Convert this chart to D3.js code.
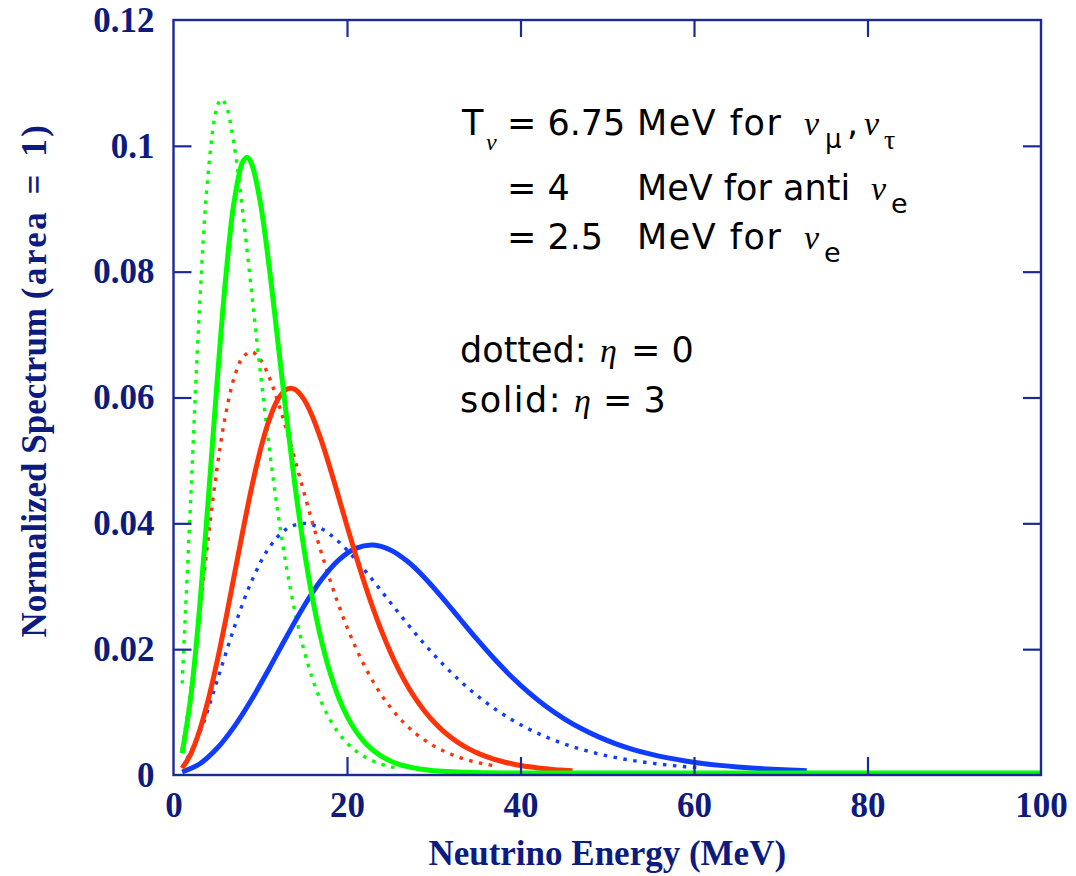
<!DOCTYPE html>
<html><head><meta charset="utf-8">
<script src="https://cdn.jsdelivr.net/npm/d3@7/dist/d3.min.js"></script>
<style>body{margin:0;background:#fff}</style>
</head><body><svg id="chart" width="1076" height="876"></svg>
<script>
// ---- tick data ----
const xTickValues = [0, 20, 40, 60, 80, 100];
const xTickLabels = ["0", "20", "40", "60", "80", "100"];
const yTickValues = [0, 0.02, 0.04, 0.06, 0.08, 0.1, 0.12];
const yTickLabels = ["0", "0.02", "0.04", "0.06", "0.08", "0.1", "0.12"];

// ---- series: T = 2.5 MeV (green) ----
const greenDottedE = [1,2,3,4,5,5.5,6,7,8,9,10,11,12,13,14,15,16,17,18,19,20,21,22,23,24,25,26];
const greenDottedV = [.01424,.04402,.07395,.09540,.10578,.10710,.10628,.09970,.08897,.07647,.06384,.05209,.04172,.03291,.02563,.01975,.01507,.01141,.00858,.00641,.00476,.00352,.00259,.00190,.00138,.00101,.00073];
const greenSolidE = [1,2,3,4,5,6,7,8,8.5,9,10,11,12,13,14,15,16,17,18,19,20,21,22,23,24,25,26,27,28,29,30,35,40,60,80,100];
const greenSolidV = [.00314,.01215,.02606,.04331,.06167,.07843,.09091,.09721,.09783,.09684,.09074,.08076,.06892,.05688,.04572,.03600,.02790,.02134,.01615,.01212,.00903,.00669,.00493,.00361,.00264,.00192,.00139,.00101,.00073,.00052,.00037,.00007,.00001,0,0,0];

// ---- series: T = 4 MeV (red) ----
const redDottedE = [1,2,3,4,5,6,7,8,9,10,11,12,13,14,15,16,17,18,19,20,21,22,23,24,25,26,27,28,29,30,31,32,33,34,35,36,37];
const redDottedV = [.00379,.01309,.02502,.03729,.04825,.05691,.06286,.06611,.06693,.06574,.06300,.05918,.05467,.04979,.04480,.03990,.03522,.03085,.02683,.02320,.01995,.01707,.01454,.01234,.01044,.00879,.00739,.00619,.00517,.00431,.00359,.00298,.00246,.00204,.00168,.00139,.00114];
const redSolidE = [1,2,3,4,5,6,7,8,9,10,11,12,13,13.5,14,15,16,17,18,19,20,21,22,23,24,25,26,27,28,29,30,31,32,33,34,35,36,37,38,39,40,41,42,43,44,45,46];
const redSolidV = [.00077,.00305,.00671,.01161,.01755,.02425,.03138,.03854,.04532,.05128,.05603,.05931,.06095,.06115,.06096,.05946,.05671,.05302,.04869,.04403,.03928,.03464,.03024,.02618,.02250,.01922,.01632,.01380,.01162,.00974,.00815,.00679,.00565,.00468,.00388,.00320,.00264,.00217,.00179,.00147,.00120,.00098,.00080,.00066,.00053,.00044,.00035];

// ---- series: T = 6.75 MeV (blue) ----
const blueDottedE = [1,3,5,7,9,11,13,15,17,19,21,23,25,27,29,31,33,35,37,39,41,43,45,47,49,51,53,55,57,59,61];
const blueDottedV = [.00084,.00634,.01455,.02313,.03047,.03576,.03877,.03967,.03886,.03680,.03392,.03059,.02710,.02365,.02037,.01737,.01468,.01230,.01024,.00846,.00696,.00570,.00464,.00377,.00304,.00245,.00197,.00158,.00126,.00100,.00080];
const blueSolidE = [1,3,5,7,9,11,13,15,17,19,21,23,25,27,29,31,33,35,37,39,41,43,45,47,49,51,53,55,57,59,61,63,65,67,69,71,73];
const blueSolidV = [.00016,.00143,.00388,.00737,.01168,.01654,.02159,.02643,.03062,.03380,.03570,.03623,.03546,.03361,.03097,.02785,.02452,.02123,.01811,.01526,.01273,.01053,.00865,.00706,.00574,.00464,.00373,.00300,.00240,.00191,.00152,.00121,.00096,.00076,.00060,.00047,.00037];

const BLUE = "#0f3cff", RED = "#ff3308", GREEN = "#00ff00";
const series = [
  {E: blueDottedE, V: blueDottedV, color: BLUE, dotted: true},
  {E: redDottedE, V: redDottedV, color: RED, dotted: true},
  {E: greenDottedE, V: greenDottedV, color: GREEN, dotted: true},
  {E: blueSolidE, V: blueSolidV, color: BLUE, dotted: false},
  {E: redSolidE, V: redSolidV, color: RED, dotted: false},
  {E: greenSolidE, V: greenSolidV, color: GREEN, dotted: false}
];

const AXIS = "#1c2a96", TEXT = "#0d1b7e";
const SERIF = "'Liberation Serif','Times New Roman',Times,serif";
const SANS = "'DejaVu Sans',Verdana,sans-serif";

const svg = d3.select("#chart");
svg.append("rect").attr("width",1076).attr("height",876).attr("fill","#fff");

const L = 173.5, R = 1041, T = 20, B = 775;
const x = d3.scaleLinear().domain([0, 100]).range([L, R]);
const y = d3.scaleLinear().domain([0, 0.12]).range([B, T]);

// curves
const line = d3.line().x(d => x(d[0])).y(d => y(Math.max(0, d[1])))
  .curve(d3.curveCatmullRom.alpha(0.5));
const cg = svg.append("g").attr("transform", "translate(0,-2)");
series.forEach(s => {
  const pts = s.E.map((e, i) => [e, s.V[i]]);
  cg.append("path").datum(pts)
    .attr("d", line)
    .attr("fill", "none")
    .attr("stroke", s.color)
    .attr("stroke-width", s.dotted ? 3.4 : 5)
    .attr("stroke-dasharray", s.dotted ? "3.5,6.5" : null)
    .attr("stroke-linejoin", "round");
});

// axes (inward ticks)
function styleAxis(g, showLabels) {
  g.select(".domain").remove();
  g.selectAll(".tick line").attr("stroke", AXIS).attr("stroke-width", 2.2);
  g.selectAll(".tick text").attr("fill", TEXT).attr("font-family", SERIF)
    .attr("font-weight", "bold").attr("font-size", 35);
  if (!showLabels) g.selectAll(".tick text").remove();
}
const minorX = xTickValues.slice(1, -1);
const minorY = yTickValues.slice(1, -1);

svg.append("g").attr("transform", `translate(0,${B})`)
  .call(d3.axisBottom(x).tickValues(minorX).tickSize(-18).tickFormat(""))
  .call(g => styleAxis(g, false));
svg.append("g").attr("transform", `translate(0,${T})`)
  .call(d3.axisTop(x).tickValues(minorX).tickSize(-17).tickFormat(""))
  .call(g => styleAxis(g, false));
svg.append("g").attr("transform", `translate(${L},0)`)
  .call(d3.axisLeft(y).tickValues(minorY).tickSize(-18).tickFormat(""))
  .call(g => styleAxis(g, false));
svg.append("g").attr("transform", `translate(${R},0)`)
  .call(d3.axisRight(y).tickValues(minorY).tickSize(-18).tickFormat(""))
  .call(g => styleAxis(g, false));

// labels
svg.append("g").attr("transform", `translate(0,${B})`)
  .call(d3.axisBottom(x).tickValues(xTickValues).tickSize(0).tickPadding(17)
    .tickFormat((d, i) => xTickLabels[i]))
  .call(g => styleAxis(g, true));
svg.append("g").attr("transform", `translate(${L},0)`)
  .call(d3.axisLeft(y).tickValues(yTickValues).tickSize(0).tickPadding(19)
    .tickFormat((d, i) => yTickLabels[i]))
  .call(g => styleAxis(g, true));

// frame
svg.append("rect").attr("x", L).attr("y", T).attr("width", R - L).attr("height", B - T)
  .attr("fill", "none").attr("stroke", AXIS).attr("stroke-width", 2.4);

// axis titles
svg.append("text").attr("x", (L + R) / 2).attr("y", 865)
  .attr("text-anchor", "middle").attr("font-family", SERIF).attr("font-weight", "bold")
  .attr("font-size", 35).attr("fill", TEXT).text("Neutrino Energy (MeV)");
const yt = svg.append("text").attr("transform", "translate(46,380) rotate(-90)")
  .attr("text-anchor", "middle").attr("font-family", SERIF).attr("font-weight", "bold")
  .attr("font-size", 35).attr("fill", TEXT);
yt.append("tspan").text("Normalized Spectrum ");
yt.append("tspan").attr("letter-spacing", 2.5).attr("word-spacing", 4).text("(area = 1)");

// annotation
const ann = svg.append("g").attr("fill", "#000");
function put(xp, yp, str, opts = {}) {
  ann.append("text").attr("x", xp).attr("y", yp)
    .attr("font-family", opts.serif ? SERIF : SANS)
    .attr("font-style", opts.italic ? "italic" : "normal")
    .attr("font-size", opts.size || 35)
    .attr("letter-spacing", opts.ls || 0)
    .text(str);
}
// line 1
put(462, 135, "T");
put(486, 150, "ν", {serif: true, italic: true, size: 24});
put(507, 135, "= 6.75");
put(637, 135, "MeV for", {ls: 1.5});
put(804, 135, "ν", {serif: true, italic: true, size: 34});
put(825, 148, "μ", {size: 26});
put(847, 135, ",");
put(864, 135, "ν", {serif: true, italic: true, size: 34});
put(884, 149, "τ", {serif: true, size: 28});
// line 2
put(507, 200, "= 4");
put(637, 200, "MeV for anti");
put(871, 200, "ν", {serif: true, italic: true, size: 34});
put(891, 213, "e", {size: 27});
// line 3
put(507, 249, "= 2.5");
put(637, 249, "MeV for", {ls: 1.5});
put(804, 249, "ν", {serif: true, italic: true, size: 34});
put(824, 262, "e", {size: 27});
// line type legend
put(460, 362, "dotted:");
put(600, 362, "η", {serif: true, italic: true, size: 34});
put(631, 362, "= 0");
put(460, 412, "solid:", {ls: 1.5});
put(574, 412, "η", {serif: true, italic: true, size: 34});
put(603, 412, "= 3");
</script></body></html>
